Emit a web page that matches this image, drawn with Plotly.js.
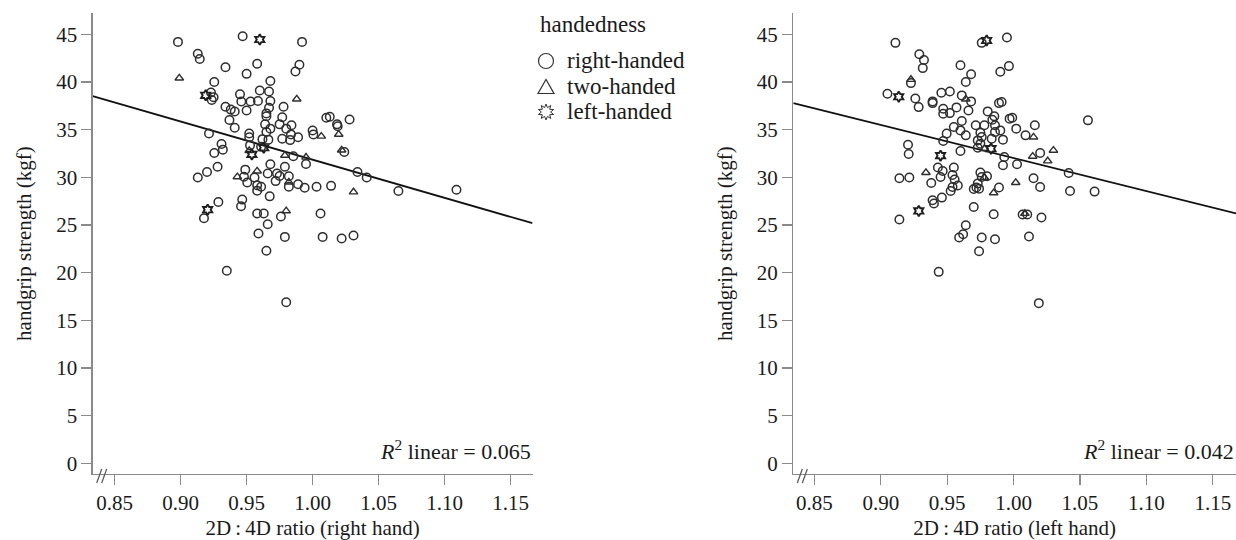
<!DOCTYPE html>
<html>
<head>
<meta charset="utf-8">
<script src="https://cdn.plot.ly/plotly-3.0.1.min.js"></script>
<style>html,body{margin:0;padding:0;background:#fff;}#chart{width:1236px;height:540px;}</style>
</head>
<body>
<div id="chart"></div>
<script>
// ---------- DATA ----------
// Left panel: 2D:4D ratio of the RIGHT hand vs handgrip strength
const rightHanded_RX = [0.898,0.947,0.992,0.913,0.9145,0.934,0.958,0.950,0.990,0.987,0.9255,0.968,0.923,0.925,0.9236,0.945,0.960,0.967,0.946,0.953,0.9586,0.968,0.934,0.938,0.941,0.950,0.967,0.978,0.965,0.965,0.937,0.941,0.9215,0.964,0.968,0.965,0.977,0.975,0.980,0.984,0.9836,0.989,0.983,0.977,0.952,0.952,0.962,0.9665,0.961,1.000,1.0006,1.0104,1.013,1.0185,1.019,1.028,1.024,0.931,0.932,0.9255,0.9526,0.9854,0.995,0.913,0.920,0.928,0.949,0.948,0.956,0.9505,0.958,0.961,0.958,0.968,0.966,0.973,0.975,0.979,0.982,0.972,0.982,0.989,0.994,1.003,1.014,0.9675,1.034,1.041,0.9286,0.9177,0.9467,0.9458,0.958,0.963,0.966,0.976,1.006,0.959,0.979,1.0076,1.022,1.031,0.965,0.935,0.980,1.065,1.109];
const rightHanded_RY = [44.2,44.8,44.2,42.95,42.4,41.55,41.9,40.85,41.8,41.1,40.0,40.1,38.9,38.4,38.1,38.7,39.1,39.0,37.95,37.95,38.0,38.0,37.4,37.1,36.9,37.0,37.3,37.4,36.7,36.4,36.0,35.2,34.6,35.55,35.1,34.75,36.3,35.55,35.1,35.45,34.5,34.2,33.9,34.05,34.6,34.2,34.0,33.95,33.2,34.9,34.5,36.25,36.35,35.55,35.35,36.07,32.65,33.5,32.9,32.55,33.35,32.2,31.4,29.97,30.55,31.1,30.8,30.05,29.97,29.45,29.16,29.0,28.6,31.36,30.4,30.4,30.14,31.1,30.1,29.6,29.0,29.27,28.9,29.0,29.1,28.0,30.55,29.97,27.4,25.7,27.66,26.96,26.2,26.2,25.08,25.88,26.2,24.1,23.75,23.75,23.58,23.9,22.3,20.2,16.9,28.57,28.7];
const twoHanded_RX = [0.899,0.988,1.0066,1.0198,1.022,0.952,0.979,0.995,0.943,0.958,0.982,1.031,0.980];
const twoHanded_RY = [40.4,38.2,34.3,34.5,32.85,32.8,32.3,32.1,30.05,30.65,29.5,28.46,26.47];
const leftHanded_RX = [0.960,0.919,0.963,0.954,0.9205];
const leftHanded_RY = [44.45,38.6,33.1,32.4,26.6];

// Right panel: 2D:4D ratio of the LEFT hand vs handgrip strength
const rightHanded_LX = [0.911,0.976,0.995,0.929,0.9325,0.9316,0.960,0.9965,0.990,0.968,0.964,0.9227,0.905,0.926,0.9285,0.939,0.939,0.9456,0.952,0.961,0.968,0.966,0.957,0.947,0.947,0.952,0.989,0.991,0.9805,0.9855,0.984,0.997,0.999,0.961,0.955,0.960,0.964,0.9496,0.947,0.9715,0.978,0.986,0.975,0.976,0.986,0.990,0.992,0.9835,0.973,0.975,0.973,1.002,1.016,1.009,0.9205,0.921,0.960,1.020,1.056,0.993,0.992,1.0026,1.0415,0.943,0.9466,0.945,0.938,0.955,0.954,0.9556,0.958,0.954,0.9526,0.914,0.9215,0.975,0.976,0.980,0.973,0.972,0.970,0.974,0.989,1.015,1.020,1.0425,1.061,0.946,0.939,0.940,0.914,0.970,0.985,1.0068,1.0103,1.021,0.964,0.962,0.959,0.976,0.986,1.0116,0.974,0.9436,1.019];
const rightHanded_LY = [44.1,44.1,44.66,42.9,42.3,41.45,41.76,41.66,41.07,40.8,40.0,39.88,38.77,38.27,37.36,37.96,37.78,38.87,39.0,38.59,37.96,37.0,37.33,37.19,36.67,36.73,37.78,37.89,36.91,36.39,36.04,36.15,36.25,35.9,35.27,34.92,34.4,34.58,33.8,35.45,35.45,35.45,34.68,34.22,34.74,34.92,33.95,34.05,33.87,33.53,33.1,35.1,35.45,34.4,33.42,32.44,32.75,32.55,35.97,32.13,31.26,31.36,30.45,31.02,30.66,30.03,29.4,31.02,30.24,29.76,29.13,28.99,28.57,29.9,29.97,30.49,30.03,30.1,29.34,28.92,28.78,28.81,28.92,29.9,28.99,28.57,28.5,27.87,27.59,27.25,25.57,26.89,26.13,26.1,26.1,25.78,24.97,24.03,23.68,23.68,23.5,23.79,22.25,20.08,16.8];
const twoHanded_LX = [0.9227,0.964,0.978,1.015,1.030,1.0144,1.0257,0.934,0.978,0.985,1.0016,1.0085];
const twoHanded_LY = [40.26,38.2,33.0,34.22,32.83,32.2,31.71,30.49,29.97,28.36,29.44,26.2];
const leftHanded_LX = [0.9797,0.9135,0.983,0.945,0.9286];
const leftHanded_LY = [44.35,38.45,33.0,32.27,26.47];

// Linear fit coefficients: [right hand, left hand]
const fitIntercept = [71.85, 66.72];
const fitSlope = [-40.0, -34.7];
const r2Labels = ['0.065', '0.042'];
const xTitles = ['2D\u2009:\u20094D ratio (right hand)', '2D\u2009:\u20094D ratio (left hand)'];
const groupNames = ['right-handed', 'two-handed', 'left-handed'];
const legendTitle = 'handedness';
const yTitle = 'handgrip strength (kgf)';
const xTickVals = [0.85, 0.90, 0.95, 1.00, 1.05, 1.10, 1.15];
const yTickVals = [0, 5, 10, 15, 20, 25, 30, 35, 40, 45];

// ---------- LAYOUT HELPERS ----------
const W = 1236, H = 540;
const FONT = 'Liberation Serif';
const TXT = '#1a1a1a';
const AX = '#8a8a8a';
const xRanges = [[0.8334, 1.1666], [0.8341, 1.1675]];
const yRange = [-1.1, 47.2];
const px = v => v / W, py = v => 1 - v / H;

const symbols = ['circle-open', 'triangle-up-open', 'hexagram-open'];
const plotSizes = [8.5, 7.5, 8];
const plotWidths = [1.5, 1.4, 1.9];
const plotColors = ['#2e2e2e', '#2e2e2e', '#1e1e1e'];

const panels = [
  {xs: [rightHanded_RX, twoHanded_RX, leftHanded_RX], ys: [rightHanded_RY, twoHanded_RY, leftHanded_RY], xa: 'x', ya: 'y'},
  {xs: [rightHanded_LX, twoHanded_LX, leftHanded_LX], ys: [rightHanded_LY, twoHanded_LY, leftHanded_LY], xa: 'x2', ya: 'y2'}
];

const traces = [];
panels.forEach((p, pi) => {
  const lx = xRanges[pi];
  traces.push({
    x: lx, y: lx.map(v => fitIntercept[pi] + fitSlope[pi] * v),
    mode: 'lines', line: {color: '#111', width: 1.8},
    xaxis: p.xa, yaxis: p.ya, showlegend: false, hoverinfo: 'skip'
  });
  p.xs.forEach((xs, gi) => {
    traces.push({
      x: xs, y: p.ys[gi], mode: 'markers', name: groupNames[gi],
      marker: {symbol: symbols[gi], size: plotSizes[gi], color: plotColors[gi], line: {width: plotWidths[gi], color: plotColors[gi]}},
      xaxis: p.xa, yaxis: p.ya, showlegend: false
    });
  });
});

function xAxis(pi, dom) {
  return {
    domain: dom, range: xRanges[pi], tickvals: xTickVals, tickformat: '.2f',
    showline: true, linecolor: AX, linewidth: 1.3, ticks: 'outside', ticklen: 10, tickwidth: 1.3, tickcolor: AX,
    showgrid: false, zeroline: false, fixedrange: true,
    tickfont: {family: FONT, size: 21, color: TXT},
    title: {text: xTitles[pi], font: {family: FONT, size: 21, color: TXT}, standoff: 14},
    anchor: pi === 0 ? 'y' : 'y2'
  };
}
function yAxis(pi) {
  return {
    domain: [py(473.8), py(13.3)], range: yRange, tickvals: yTickVals,
    showline: true, linecolor: AX, linewidth: 1.3, ticks: 'outside', ticklen: 10, tickwidth: 1.3, tickcolor: AX,
    showgrid: false, zeroline: false, fixedrange: true,
    tickfont: {family: FONT, size: 21, color: TXT},
    title: {text: yTitle, font: {family: FONT, size: 21, color: TXT}, standoff: 18},
    anchor: pi === 0 ? 'x' : 'x2'
  };
}

// axis-break marks
const shapes = [92.7, 793.3].flatMap(x0 => [0, 5].map(d => ({
  type: 'line', xref: 'paper', yref: 'paper',
  x0: px(x0 + 4 + d), y0: py(483), x1: px(x0 + 9 + d), y1: py(469),
  line: {color: '#555', width: 1.2}
})));

// hand-drawn legend symbols
const legX = 546, legY = [61, 87, 112], legTextX = 565;
const symLine = {color: '#333', width: 1.2};
shapes.push({type: 'circle', xref: 'paper', yref: 'paper', x0: px(legX - 7.5), x1: px(legX + 7.5), y0: py(legY[0] + 7.5), y1: py(legY[0] - 7.5), line: symLine});
function pathFrom(pts) { return 'M' + pts.map(p => px(p[0]).toFixed(5) + ',' + py(p[1]).toFixed(5)).join('L') + 'Z'; }
shapes.push({type: 'path', xref: 'paper', yref: 'paper', path: pathFrom([[legX - 8, legY[1] + 6.5], [legX + 8, legY[1] + 6.5], [legX, legY[1] - 7.5]]), line: symLine});
const starPts = [];
for (let k = 0; k < 20; k++) {
  const r = k % 2 === 0 ? 8 : 4.6;
  const a = -Math.PI / 2 + k * Math.PI / 10;
  starPts.push([legX + r * Math.cos(a), legY[2] + r * Math.sin(a)]);
}
shapes.push({type: 'path', xref: 'paper', yref: 'paper', path: pathFrom(starPts), line: {color: '#333', width: 1}});

const annotations = [
  {text: legendTitle, xref: 'paper', yref: 'paper', x: px(538), y: py(25), xanchor: 'left', yanchor: 'middle', showarrow: false, font: {family: FONT, size: 23, color: TXT}},
  {text: '<i>R</i><sup>2</sup> linear = ' + r2Labels[0], xref: 'paper', yref: 'paper', x: px(533), y: py(450), xanchor: 'right', yanchor: 'middle', showarrow: false, font: {family: FONT, size: 22, color: TXT}},
  {text: '<i>R</i><sup>2</sup> linear = ' + r2Labels[1], xref: 'paper', yref: 'paper', x: px(1235.5), y: py(450), xanchor: 'right', yanchor: 'middle', showarrow: false, font: {family: FONT, size: 22, color: TXT}}
];
groupNames.forEach((g, gi) => annotations.push({
  text: g, xref: 'paper', yref: 'paper', x: px(legTextX), y: py(legY[gi]), xanchor: 'left', yanchor: 'middle', showarrow: false,
  font: {family: FONT, size: 23, color: TXT}
}));

const layout = {
  width: W, height: H,
  margin: {l: 0, r: 0, t: 0, b: 0},
  paper_bgcolor: '#fff', plot_bgcolor: '#fff',
  font: {family: FONT, color: TXT},
  xaxis: xAxis(0, [px(92.7), px(532.5)]),
  yaxis: yAxis(0),
  xaxis2: xAxis(1, [px(793.3), 1]),
  yaxis2: yAxis(1),
  showlegend: false,
  shapes: shapes,
  annotations: annotations
};

Plotly.newPlot('chart', traces, layout, {displayModeBar: false, staticPlot: true});
</script>
</body>
</html>
